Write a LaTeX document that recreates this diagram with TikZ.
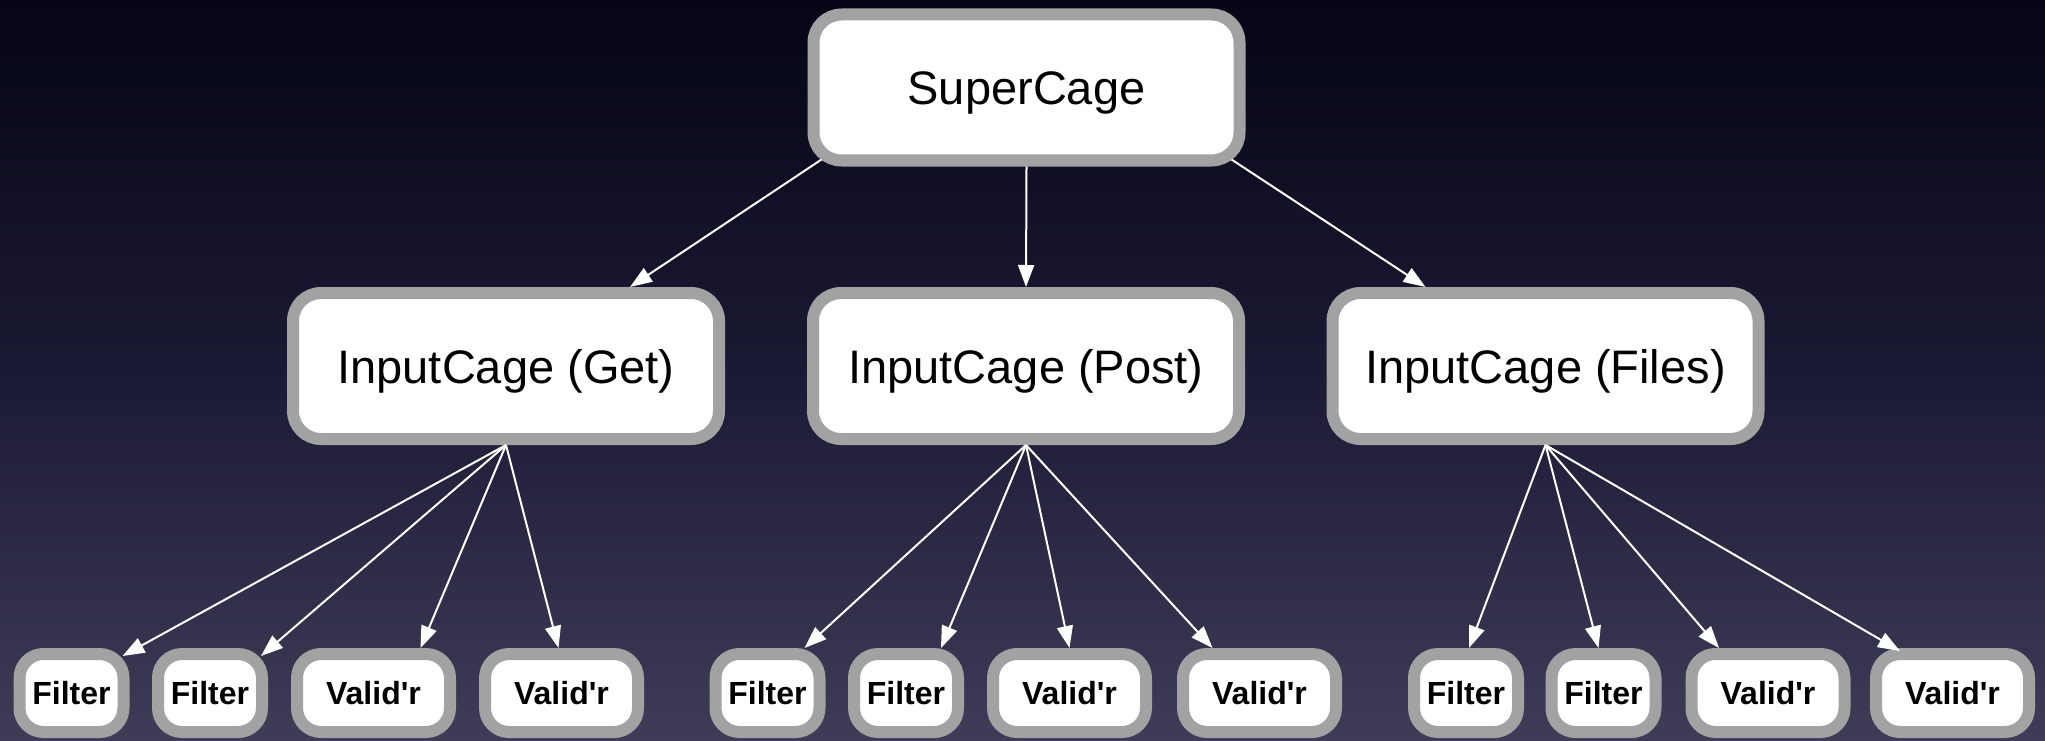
\documentclass[tikz,border=0pt]{standalone}
\usepackage{fontspec}
\setmainfont{Liberation Sans}
\newfontfamily\leaffont[Ligatures=TeXOff]{Liberation Sans}
\usetikzlibrary{arrows.meta,shadows}
\definecolor{bgtop}{RGB}{5,5,22}
\definecolor{bgmid}{RGB}{27,26,52}
\definecolor{bgbot}{RGB}{62,60,86}
\definecolor{rim}{RGB}{162,162,162}
\begin{document}
\begin{tikzpicture}[x=1pt,y=-1pt,
  cage/.style={draw=rim, line width=12pt, fill=white, rounded corners=28pt,
    minimum width=426pt, minimum height=146pt, inner sep=0pt,
    text height=34pt, text depth=0pt,
    drop shadow={shadow xshift=0pt, shadow yshift=-4pt, opacity=0.35, fill=black},
    font=\fontsize{47}{50}\selectfont},
  leaf/.style={draw=rim, line width=12pt, fill=white, rounded corners=24pt,
    minimum height=78pt, inner sep=0pt,
    text height=23pt, text depth=0pt,
    drop shadow={shadow xshift=0pt, shadow yshift=-4pt, opacity=0.35, fill=black},
    font=\leaffont\bfseries\fontsize{32}{34}\selectfont},
  filterbox/.style={leaf, minimum width=104pt},
  validbox/.style={leaf, minimum width=153pt},
  link/.style={draw=white, line width=2pt, -{Triangle[length=22pt,width=16pt]}}
]
\shade[top color=bgtop, bottom color=bgbot, middle color=bgmid] (0,0) rectangle (2045,741);
\useasboundingbox (0,0) rectangle (2045,741);

\node[cage] (sc) at (1026.5,87.5) {SuperCage};
\node[cage] (get) at (506,366) {InputCage (Get)};
\node[cage] (post) at (1026,366) {InputCage (Post)};
\node[cage] (files) at (1545.5,366) {InputCage (Files)};

\node[filterbox] (a1) at (71.5,693) {Filter};
\node[filterbox] (a2) at (210,693) {Filter};
\node[validbox]  (a3) at (373.5,693) {Valid'r};
\node[validbox]  (a4) at (561.5,693) {Valid'r};

\node[filterbox] (b1) at (767.5,693) {Filter};
\node[filterbox] (b2) at (906,693) {Filter};
\node[validbox]  (b3) at (1069.5,693) {Valid'r};
\node[validbox]  (b4) at (1259.5,693) {Valid'r};

\node[filterbox] (c1) at (1466,693) {Filter};
\node[filterbox] (c2) at (1603.5,693) {Filter};
\node[validbox]  (c3) at (1768,693) {Valid'r};
\node[validbox]  (c4) at (1952.5,693) {Valid'r};

\draw[link] ([xshift=14pt,yshift=7pt]sc.south west) -- ([xshift=124pt]get.north);
\draw[link] (sc.south) -- (post.north);
\draw[link] ([xshift=-14pt,yshift=7pt]sc.south east) -- ([xshift=-120pt]files.north);

\draw[link] (get.south) -- ([xshift=-7pt,yshift=-8pt]a1.north east);
\draw[link] (get.south) -- ([xshift=-7pt,yshift=-8pt]a2.north east);
\draw[link] (get.south) -- ([xshift=47pt]a3.north);
\draw[link] (get.south) -- ([xshift=-3pt]a4.north);

\draw[link] (post.south) -- ([xshift=37pt]b1.north);
\draw[link] (post.south) -- ([xshift=35pt]b2.north);
\draw[link] (post.south) -- (b3.north);
\draw[link] (post.south) -- ([xshift=-47pt]b4.north);

\draw[link] (files.south) -- ([xshift=3pt]c1.north);
\draw[link] (files.south) -- ([xshift=-5pt]c2.north);
\draw[link] (files.south) -- ([xshift=-49pt]c3.north);
\draw[link] (files.south) -- ([xshift=30pt,yshift=-3pt]c4.north west);
\end{tikzpicture}
\end{document}
